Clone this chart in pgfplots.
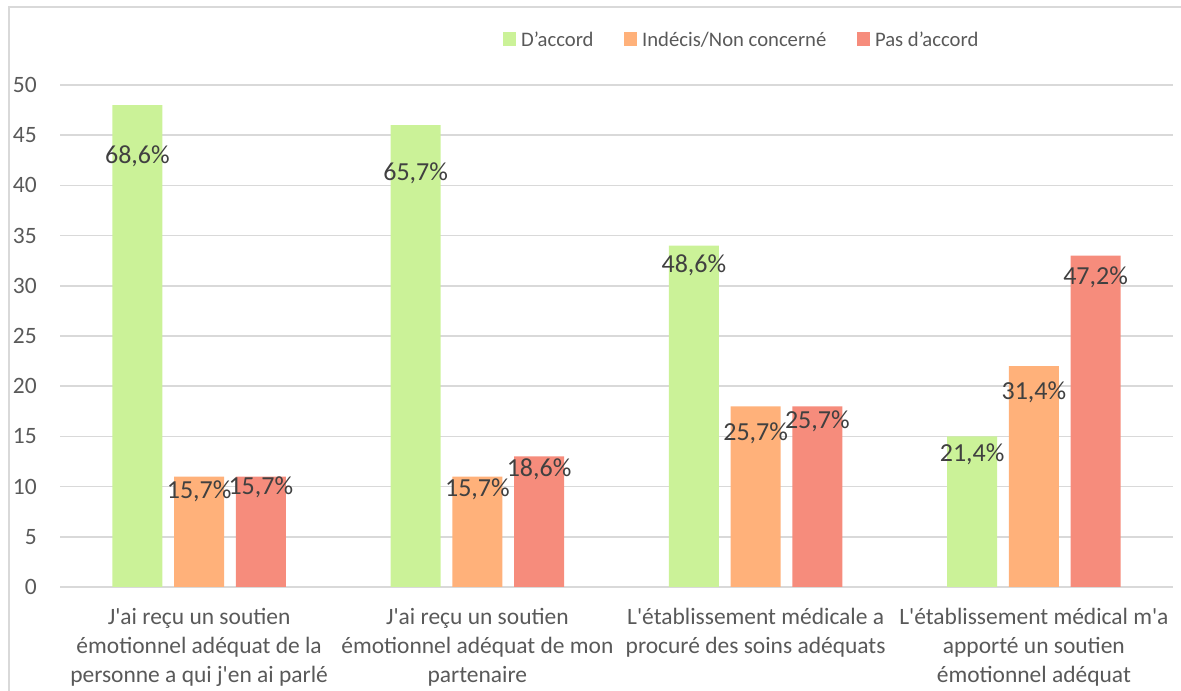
\documentclass[border=0pt]{standalone}
\usepackage{pgfplots}
\pgfplotsset{compat=1.18}
\usepackage{pgfplotstable}
\usepackage{fontspec}
\setmainfont{Carlito}
\definecolor{cgreen}{HTML}{CBF298}
\definecolor{corange}{HTML}{FFB17A}
\definecolor{cred}{HTML}{F68C7C}
\definecolor{cgrid}{HTML}{D9D9D9}
\definecolor{ctick}{HTML}{595959}
\definecolor{clab}{HTML}{404040}

\pgfplotstableread{
x y lab off
0 48 68,6 51
1 46 65,7 48
2 34 48,6 20
3 15 21,4 18
}\tabA
\pgfplotstableread{
x y lab off
0 11 15,7 15
1 11 15,7 13
2 18 25,7 27
3 22 31,4 26
}\tabB
\pgfplotstableread{
x y lab off
0 11 15,7 11
1 13 18,6 13
2 18 25,7 15
3 33 47,2 22
}\tabC

\begin{document}
\begin{tikzpicture}
\useasboundingbox (0,0) rectangle (885.75pt,518.25pt);
\draw[cgrid, line width=1.5pt] (6.75pt,0) -- (6.75pt,513pt) -- (885.75pt,513pt);
\begin{axis}[
  at={(45pt,78pt)}, anchor=south west,
  scale only axis,
  width=834.75pt, height=376.5pt,
  xmin=-0.5, xmax=3.5, ymin=0, ymax=50,
  ybar, bar width=37.5pt,
  axis line style={draw=none},
  major tick length=0pt,
  ytick={0,5,...,50},
  ymajorgrids,
  grid style={cgrid, line width=1.3pt},
  xtick={0,1,2,3},
  xticklabels={
    {J\textquotesingle ai reçu un soutien\\émotionnel adéquat de la\\personne a qui j\textquotesingle en ai parlé},
    {J\textquotesingle ai reçu un soutien\\émotionnel adéquat de mon\\partenaire},
    {L\textquotesingle établissement médicale a\\procuré des soins adéquats},
    {L\textquotesingle établissement médical m\textquotesingle a\\apporté un soutien\\émotionnel adéquat}},
  /pgf/number format/assume math mode=true,
  tick label style={font=\fontsize{17.6}{21.75}\selectfont, text=ctick},
  yticklabel style={anchor=east, inner sep=0pt, xshift=-17.25pt},
  xticklabel style={anchor=north, align=center, inner sep=0pt, yshift=-16pt},
  legend columns=3,
  legend style={draw=none, fill=none, at={(0.398,1.0896)}, anchor=west,
    font=\fontsize{15.5}{18}\selectfont, text=ctick, inner sep=0pt,
    nodes={inner sep=0pt},
    /tikz/every odd column/.append style={column sep=3.75pt},
    /tikz/every even column/.append style={column sep=23pt}},
  legend image code/.code={\fill[#1] (0pt,-4.5pt) rectangle (9.75pt,6pt);},
  point meta=explicit symbolic,
  nodes near coords={\pgfplotspointmeta\%},
  visualization depends on={\thisrow{off} \as \myoff},
]
\addplot[fill=cgreen, draw=none, bar shift=-46.3pt,
  every node near coord/.append style={anchor=center, yshift=-0.75pt*\myoff, font=\fontsize{19.5}{22}\selectfont, text=clab}]
  table[x=x, y=y, meta=lab] {\tabA};
\addlegendentry{D'accord}
\addplot[fill=corange, draw=none, bar shift=0pt,
  every node near coord/.append style={anchor=center, yshift=-0.75pt*\myoff, font=\fontsize{19.5}{22}\selectfont, text=clab}]
  table[x=x, y=y, meta=lab] {\tabB};
\addlegendentry{Indécis/Non concerné}
\addplot[fill=cred, draw=none, bar shift=46.3pt,
  every node near coord/.append style={anchor=center, yshift=-0.75pt*\myoff, font=\fontsize{19.5}{22}\selectfont, text=clab}]
  table[x=x, y=y, meta=lab] {\tabC};
\addlegendentry{Pas d'accord}
\end{axis}
\end{tikzpicture}
\end{document}
